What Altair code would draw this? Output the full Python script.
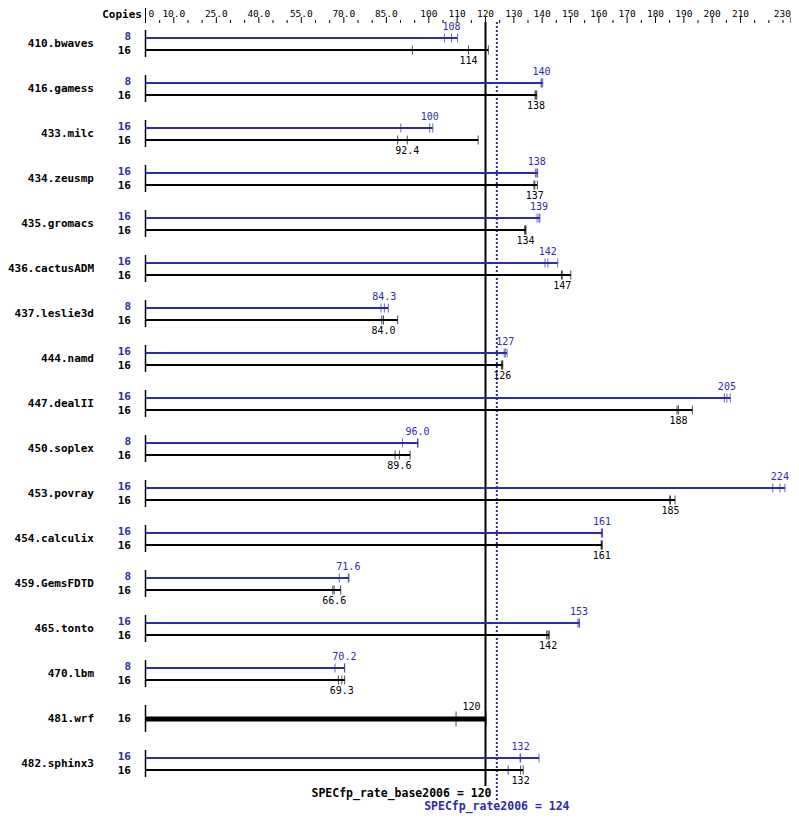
import altair as alt
import pandas as pd

# ---------------- data ----------------
benchmarks = ["410.bwaves", "416.gamess", "433.milc", "434.zeusmp", "435.gromacs",
              "436.cactusADM", "437.leslie3d", "444.namd", "447.dealII", "450.soplex",
              "453.povray", "454.calculix", "459.GemsFDTD", "465.tonto", "470.lbm",
              "481.wrf", "482.sphinx3"]
peak_copies = [8, 8, 16, 16, 16, 16, 8, 16, 16, 8, 16, 16, 8, 16, 8, None, 16]
base_copies = [16, 16, 16, 16, 16, 16, 16, 16, 16, 16, 16, 16, 16, 16, 16, 16, 16]
peak_runs = [[105.5, 108.0, 110.1], [139.6, 139.8, 140.2], [90.1, 100.3, 101.4],
             [137.6, 138.1, 138.4], [138.2, 138.9, 139.2], [141.0, 142.0, 145.5],
             [83.1, 84.3, 85.7], [126.6, 127.0, 127.6], [204.3, 205.2, 206.4],
             [90.7, 96.0, 96.2], [221.4, 223.9, 225.7], [160.9, 161.1, 161.3],
             [68.4, 71.6, 71.8], [152.6, 153.0, 153.2], [66.9, 70.2, 70.3],
             None, [132.2, 132.4, 138.9]]
base_runs = [[94.2, 114.0, 121.0], [137.5, 137.8, 138.1], [89.0, 92.4, 117.4],
             [137.1, 137.4, 138.3], [133.8, 134.1, 134.3], [146.8, 147.1, 150.1],
             [83.4, 84.0, 89.0], [125.6, 125.9, 126.1], [187.6, 188.1, 193.0],
             [88.1, 89.6, 93.4], [185.0, 185.3, 186.9], [160.8, 161.0, 161.2],
             [66.1, 66.6, 68.9], [141.6, 142.1, 142.5], [68.1, 69.3, 70.3],
             [109.6, 120.0, 120.2], [128.0, 132.4, 133.3]]
base_score = 120
peak_score = 124
base_title = "SPECfp_rate_base2006 = 120"
peak_title = "SPECfp_rate2006 = 124"
axis_values = [0, 10, 25, 40, 55, 70, 85, 100, 110, 120, 130, 140, 150, 160,
               170, 180, 190, 200, 210, 230]
axis_labels = ["0", "10.0", "25.0", "40.0", "55.0", "70.0", "85.0", "100", "110", "120",
               "130", "140", "150", "160", "170", "180", "190", "200", "210", "230"]

# ---------------- styling / geometry ----------------
BLUE = "#2b2bab"
FONT = "DejaVu Sans Mono"
W, H = 783, 806
PXU = 17 / 6          # pixels per unit on x
X0 = 137.5            # pixel of value 0
ROW = 45.0            # pixels per benchmark row
Y0 = 36.0             # pixel of first row centre
OFF = 6 / ROW

xsc = alt.Scale(domain=[-X0 / PXU, (W - X0) / PXU], nice=False, zero=False, clamp=True)
ysc = alt.Scale(domain=[-Y0 / ROW, (H - Y0) / ROW], nice=False, zero=False, reverse=True)
ser_dom = ["peak", "base", "single"]
col_scale = alt.Scale(domain=ser_dom, range=[BLUE, "black", "black"])


def fmt(v):
    return f"{v:.0f}" if v >= 100 else f"{v:.1f}"


line_rows, tick_rows, label_rows, copy_rows, start_rows, name_rows = [], [], [], [], [], []
for i, name in enumerate(benchmarks):
    name_rows.append(dict(y=i, name=name))
    pr, br = peak_runs[i], base_runs[i]
    if pr is None:
        groups = [("single", float(i), br, base_copies[i])]
    else:
        groups = [("peak", i - OFF, pr, peak_copies[i]), ("base", i + OFF, br, base_copies[i])]
    for s, y, runs, cp in groups:
        srt = sorted(runs)
        line_rows.append(dict(series=s, y=y, x0=0, x1=srt[-1]))
        for r in runs:
            tick_rows.append(dict(series=s, y=y, x=r))
        label_rows.append(dict(series=s, y=y, x=srt[1], text=fmt(srt[1])))
        copy_rows.append(dict(series=s, y=y, text=str(cp)))
    start_rows.append(dict(x=0, y=i - 14 / ROW, y2=i + 13 / ROW))

lines_df = pd.DataFrame(line_rows)
ticks_df = pd.DataFrame(tick_rows)
labels_df = pd.DataFrame(label_rows)
copies_df = pd.DataFrame(copy_rows)
start_df = pd.DataFrame(start_rows)
names_df = pd.DataFrame(name_rows)

axis_df = pd.DataFrame({"x": axis_values, "t": axis_labels})
minor_vals = [v for v in range(5, 230, 5) if v not in axis_values]
minor_df = pd.DataFrame({"x": minor_vals})

X = lambda f: alt.X(f, scale=xsc, axis=None)
Y = lambda f: alt.Y(f, scale=ysc, axis=None)
is_single = alt.datum.series == "single"
not_single = alt.datum.series != "single"

# ---- top scale ----
minor = alt.Chart(minor_df).mark_rule(color="black", strokeWidth=1).encode(
    x=X("x:Q"), y=alt.value(12), y2=alt.value(15),
)
major = alt.Chart(axis_df).transform_filter(alt.datum.x > 0).mark_rule(
    color="black", strokeWidth=1).encode(x=X("x:Q"), y=alt.value(9), y2=alt.value(15))
zero_rule = alt.Chart(axis_df).transform_filter(alt.datum.x == 0).mark_rule(
    color="black", strokeWidth=1).encode(x=X("x:Q"), y=alt.value(0), y2=alt.value(15))

def axis_text(flt, align, dx=0):
    return alt.Chart(axis_df).transform_filter(flt).mark_text(
        font=FONT, fontSize=9.5, align=align, baseline="top", dx=dx, color="black"
    ).encode(x=X("x:Q"), y=alt.value(0.5), text="t:N")

ax_first = axis_text(alt.datum.x == axis_values[0], "left", 3)
ax_mid = axis_text((alt.datum.x > axis_values[0]) & (alt.datum.x < axis_values[-1]), "center")
ax_last = axis_text(alt.datum.x == axis_values[-1], "right")

starts = alt.Chart(start_df).mark_rule(color="black", strokeWidth=1.5).encode(
    x=X("x:Q"), y=Y("y:Q"), y2="y2:Q",
)

ref_base = alt.Chart(pd.DataFrame({"x": [base_score]})).mark_rule(color="black", strokeWidth=2).encode(
    x=X("x:Q"), y=alt.value(14), y2=alt.value(778),
)
ref_peak = alt.Chart(pd.DataFrame({"x": [peak_score]})).mark_rule(
    color=BLUE, strokeWidth=2, strokeDash=[2, 2]).encode(
    x=X("x:Q"), y=alt.value(14), y2=alt.value(794),
)

bars = alt.Chart(lines_df).transform_filter(not_single).mark_rule(strokeWidth=2).encode(
    x=X("x0:Q"), x2="x1:Q", y=Y("y:Q"),
    color=alt.Color("series:N", scale=col_scale, legend=None),
)
bars_single = alt.Chart(lines_df).transform_filter(is_single).mark_rule(
    strokeWidth=5, color="black").encode(x=X("x0:Q"), x2="x1:Q", y=Y("y:Q"))

ticks = alt.Chart(ticks_df).transform_filter(not_single).mark_tick(
    orient="vertical", thickness=1, size=9).encode(
    x=X("x:Q"), y=Y("y:Q"),
    color=alt.Color("series:N", scale=col_scale, legend=None),
)
ticks_single = alt.Chart(ticks_df).transform_filter(is_single).mark_tick(
    orient="vertical", thickness=1, size=15, color="black").encode(x=X("x:Q"), y=Y("y:Q"))

def label_layer(series, dy, dx=0):
    return alt.Chart(labels_df).transform_filter(alt.datum.series == series).mark_text(
        font=FONT, fontSize=10, baseline="middle", align="center", dy=dy, dx=dx
    ).encode(
        x=X("x:Q"), y=Y("y:Q"), text="text:N",
        color=alt.Color("series:N", scale=col_scale, legend=None),
    )

lab_peak = label_layer("peak", -11)
lab_base = label_layer("base", 11)
lab_single = label_layer("single", -12, -14)

def copies_layer(series, dy):
    return alt.Chart(copies_df).transform_filter(alt.datum.series == series).mark_text(
        font=FONT, fontSize=11, fontWeight="bold", align="right", baseline="middle", dy=dy
    ).encode(
        x=alt.value(123), y=Y("y:Q"), text="text:N",
        color=alt.Color("series:N", scale=col_scale, legend=None),
    )

cp_peak = copies_layer("peak", -1)
cp_base = copies_layer("base", 1)
cp_single = copies_layer("single", 0)

names = alt.Chart(names_df).mark_text(
    font=FONT, fontSize=11, fontWeight="bold", align="right", baseline="middle", color="black"
).encode(x=alt.value(86), y=Y("y:Q"), text="name:N")

copies_head = alt.Chart(pd.DataFrame({"t": ["Copies"]})).mark_text(
    font=FONT, fontSize=11, fontWeight="bold", align="right", baseline="top", color="black"
).encode(x=alt.value(134), y=alt.value(0.5), text="t:N")

base_txt = alt.Chart(pd.DataFrame({"x": [base_score], "t": [base_title]})).mark_text(
    font=FONT, fontSize=11.5, fontWeight="bold", align="right", baseline="middle", dx=6, color="black"
).encode(x=X("x:Q"), y=alt.value(786), text="t:N")

peak_txt = alt.Chart(pd.DataFrame({"x": [peak_score], "t": [peak_title]})).mark_text(
    font=FONT, fontSize=11.5, fontWeight="bold", align="center", baseline="middle", color=BLUE
).encode(x=X("x:Q"), y=alt.value(799), text="t:N")

chart = alt.layer(
    minor, major, zero_rule, ax_first, ax_mid, ax_last,
    starts, ref_base, ref_peak, bars, bars_single, ticks, ticks_single,
    lab_peak, lab_base, lab_single, cp_peak, cp_base, cp_single,
    names, copies_head, base_txt, peak_txt,
).properties(
    width=W, height=H, padding=0, autosize=alt.AutoSizeParams(type="none"),
    background="white",
).configure_view(stroke=None)

chart.save("out.html", embed_options={"renderer": "svg", "actions": False})
